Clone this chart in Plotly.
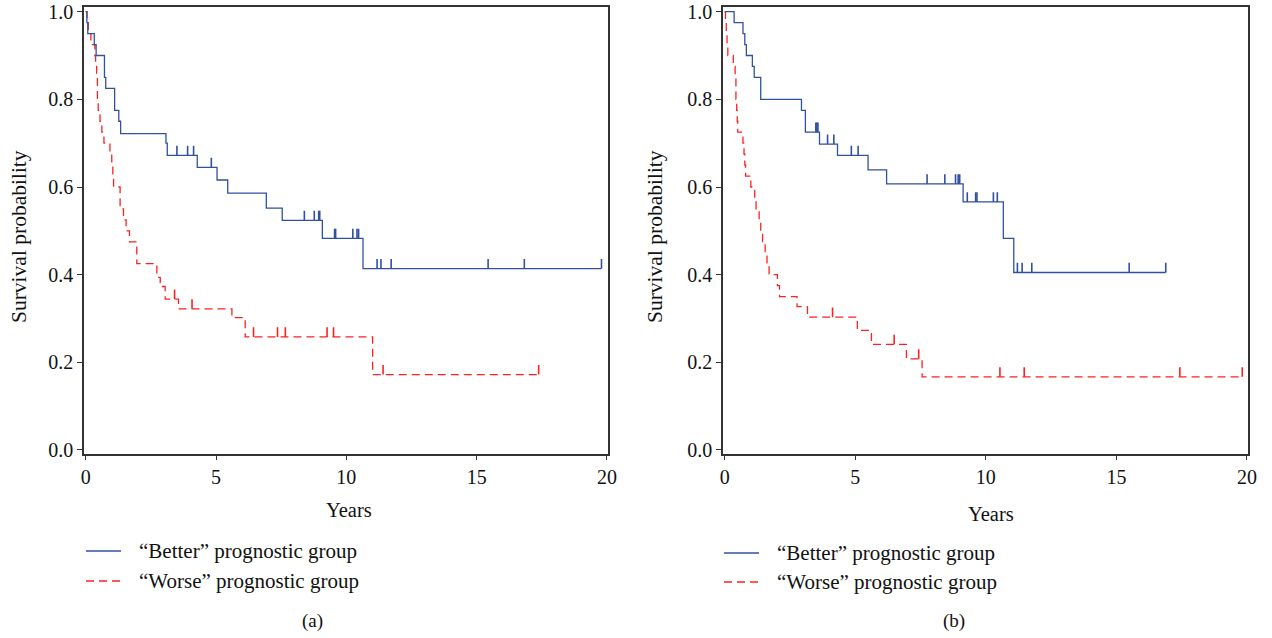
import numpy as np
import plotly.graph_objects as go

# ---------------- data ----------------
# Panel (a)
a_better_t = [0, 0.045, 0.08, 0.33, 0.40, 0.72, 0.77, 1.11, 1.27, 1.34, 3.08, 3.13, 4.28, 5.04, 5.45, 6.93, 7.54, 9.08, 10.64, 19.79]
a_better_s = [1.0, 0.975, 0.95, 0.925, 0.90, 0.85, 0.825, 0.775, 0.75, 0.722, 0.70, 0.672, 0.645, 0.616, 0.586, 0.552, 0.524, 0.483, 0.414, 0.414]
a_better_cens = [3.50, 3.91, 4.14, 4.82, 8.39, 8.77, 8.94, 8.98, 9.55, 9.59, 10.25, 10.41, 10.47, 11.18, 11.33, 11.72, 15.44, 16.83, 19.79]

a_worse_t = [0, 0.05, 0.10, 0.20, 0.35, 0.38, 0.42, 0.45, 0.48, 0.55, 0.62, 0.70, 0.93, 1.00, 1.04, 1.07, 1.32, 1.45, 1.55, 1.68, 1.96, 2.73, 2.86, 3.05, 3.56, 5.61, 6.12, 11.01, 17.38]
a_worse_s = [1.0, 0.975, 0.95, 0.925, 0.90, 0.875, 0.85, 0.80, 0.775, 0.75, 0.725, 0.70, 0.675, 0.65, 0.625, 0.60, 0.55, 0.525, 0.50, 0.475, 0.425, 0.394, 0.373, 0.344, 0.322, 0.302, 0.258, 0.172, 0.172]
a_worse_cens = [3.41, 4.08, 6.44, 7.36, 7.66, 9.26, 9.51, 11.41, 17.38]

# Panel (b)
b_better_t = [0, 0.36, 0.70, 0.77, 0.83, 1.06, 1.13, 1.38, 2.94, 3.09, 3.63, 4.32, 5.49, 6.20, 9.13, 10.67, 11.07, 16.89]
b_better_s = [1.0, 0.975, 0.95, 0.925, 0.90, 0.875, 0.85, 0.80, 0.775, 0.725, 0.698, 0.672, 0.639, 0.607, 0.566, 0.483, 0.405, 0.405]
b_better_cens = [3.49, 3.53, 3.57, 3.94, 4.18, 4.85, 5.11, 7.75, 8.43, 8.84, 8.94, 9.00, 9.29, 9.61, 9.66, 10.29, 10.44, 11.21, 11.39, 11.76, 15.49, 16.89]

b_worse_t = [0, 0.03, 0.06, 0.09, 0.12, 0.33, 0.40, 0.43, 0.46, 0.48, 0.50, 0.70, 0.74, 0.77, 0.80, 1.00, 1.15, 1.20, 1.32, 1.38, 1.45, 1.55, 1.62, 1.70, 2.02, 2.10, 2.77, 3.17, 5.08, 5.62, 6.96, 7.56, 19.82]
b_worse_s = [1.0, 0.975, 0.95, 0.925, 0.90, 0.875, 0.85, 0.80, 0.775, 0.75, 0.725, 0.70, 0.675, 0.65, 0.625, 0.60, 0.575, 0.55, 0.525, 0.50, 0.475, 0.45, 0.425, 0.40, 0.375, 0.35, 0.327, 0.303, 0.273, 0.241, 0.208, 0.167, 0.167]
b_worse_cens = [4.13, 6.49, 7.43, 10.54, 11.47, 17.43, 19.82]

x_ticks = [0, 5, 10, 15, 20]
y_ticks = [0.0, 0.2, 0.4, 0.6, 0.8, 1.0]
legend_labels = ["\u201cBetter\u201d prognostic group", "\u201cWorse\u201d prognostic group"]
panel_labels = ["(a)", "(b)"]

BLUE = "#3050a0"
RED = "#ff2020"
FONT = "Liberation Serif"
W, H = 1272, 638
TICK_H = 0.022


def step_at(ts, ss, t):
    i = np.searchsorted(np.array(ts), t, side="right") - 1
    return ss[max(i, 0)]


def px(x):
    return x / W


def py(y):
    return 1 - y / H


fig = go.Figure()


def add_panel(xa, ya, bt, bs, bc, wt, ws, wc):
    for t, s, c, col, dash in [(wt, ws, wc, RED, "8px,5px"), (bt, bs, bc, BLUE, "solid")]:
        fig.add_trace(go.Scatter(x=t, y=s, mode="lines", line=dict(color=col, width=1.3, shape="hv", dash=dash),
                                 xaxis=xa, yaxis=ya, showlegend=False, hoverinfo="skip"))
        cy = [step_at(t, s, v) for v in c]
        fig.add_trace(go.Scatter(x=c, y=cy, mode="markers", marker=dict(size=0.1, color=col),
                                 error_y=dict(type="data", symmetric=False, array=[TICK_H] * len(c),
                                              arrayminus=[0] * len(c), width=0, thickness=1.6, color=col),
                                 xaxis=xa, yaxis=ya, showlegend=False, hoverinfo="skip"))


add_panel("x", "y", a_better_t, a_better_s, a_better_cens, a_worse_t, a_worse_s, a_worse_cens)
add_panel("x2", "y2", b_better_t, b_better_s, b_better_cens, b_worse_t, b_worse_s, b_worse_cens)

axis_common = dict(showline=True, linecolor="#333", linewidth=1.5, mirror=True, ticks="outside", ticklen=5,
                   tickcolor="#333", tickwidth=1.2, showgrid=False, zeroline=False,
                   tickfont=dict(family=FONT, size=20, color="#111"), automargin=False)

top_px, bot_px = 7.3, 453.5
ydom = [py(bot_px), py(top_px)]
yrange = [-0.008, 1.01]
fig.update_layout(
    width=W, height=H, margin=dict(l=0, r=0, t=0, b=0), paper_bgcolor="white", plot_bgcolor="white",
    xaxis=dict(domain=[px(84), px(608)], range=[-0.065, 20.04], tickvals=x_ticks, anchor="y", **axis_common),
    yaxis=dict(domain=ydom, range=yrange, tickvals=y_ticks, tickformat=".1f", anchor="x", **axis_common),
    xaxis2=dict(domain=[px(723), px(1248)], range=[-0.065, 20.04], tickvals=x_ticks, anchor="y2", **axis_common),
    yaxis2=dict(domain=ydom, range=yrange, tickvals=y_ticks, tickformat=".1f", anchor="x2", **axis_common),
    showlegend=False,
)

ann = []
shapes = []
for (ytx, xc, xy, lx, ly1, ly2, pl) in [(19, 349, 510, 86, 551, 581, panel_labels[0]),
                                        (655, 991, 514, 724, 553, 582, panel_labels[1])]:
    ann.append(dict(text="Survival probability", x=px(ytx), y=py(237), xref="paper", yref="paper",
                    xanchor="center", yanchor="middle", textangle=-90, showarrow=False,
                    font=dict(family=FONT, size=21.5, color="#111")))
    ann.append(dict(text="Years", x=px(xc), y=py(xy), xref="paper", yref="paper", xanchor="center",
                    yanchor="middle", showarrow=False, font=dict(family=FONT, size=20.5, color="#111")))
    ann.append(dict(text=pl, x=px(xc - 37), y=py(621), xref="paper", yref="paper", xanchor="center",
                    yanchor="middle", showarrow=False, font=dict(family=FONT, size=19, color="#111")))
    for lab, yy, col, dash in [(legend_labels[0], ly1, BLUE, "solid"), (legend_labels[1], ly2, RED, "8px,5px")]:
        shapes.append(dict(type="line", xref="paper", yref="paper", x0=px(lx), x1=px(lx + 35), y0=py(yy), y1=py(yy),
                           line=dict(color=col, width=1.3, dash=dash)))
        ann.append(dict(text=lab, x=px(lx + 51), y=py(yy), xref="paper", yref="paper", xanchor="left",
                        yanchor="middle", showarrow=False, font=dict(family=FONT, size=21, color="#111")))

fig.update_layout(annotations=ann, shapes=shapes)
fig.write_html("out.html", config={"displayModeBar": False},
               post_script="document.body.style.margin='0';document.body.style.overflow='hidden';")
